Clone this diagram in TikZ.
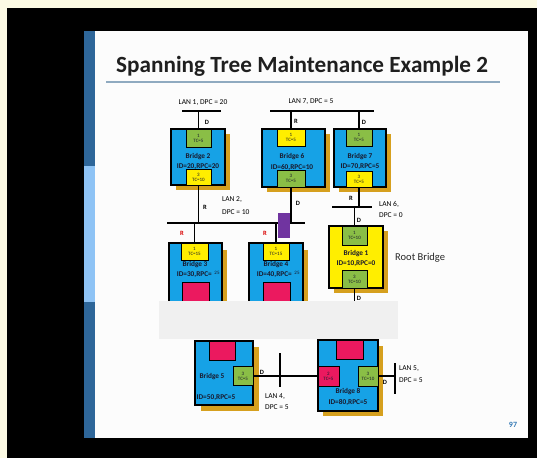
\documentclass[tikz,border=0pt]{standalone}
\usepackage{fontspec}
\setmainfont{Carlito}
\definecolor{bblue}{RGB}{22,162,230}
\definecolor{pgreen}{RGB}{138,190,70}
\definecolor{pyellow}{RGB}{255,238,0}
\definecolor{pred}{RGB}{235,25,95}
\definecolor{ppurple}{RGB}{112,52,160}
\definecolor{shad}{RGB}{214,160,30}
\definecolor{darkbar}{RGB}{46,102,153}
\definecolor{lightbar}{RGB}{142,195,245}
\definecolor{outerbg}{RGB}{252,250,228}
\definecolor{grayb}{RGB}{240,240,240}
\definecolor{txt}{RGB}{25,25,45}
\definecolor{pnum}{RGB}{50,120,180}
\definecolor{rulec}{RGB}{143,170,192}
\begin{document}
\begin{tikzpicture}[x=1pt,y=-1pt,
  brbox/.style={draw=black,line width=1.2pt,fill=bblue},
  portbox/.style={draw=black,line width=1pt,align=center,inner sep=0pt,font=\fontsize{5}{5}\selectfont,text=txt},
  lanline/.style={line width=1.4pt},
  link/.style={line width=1.8pt},
  lbl/.style={font=\fontsize{7.5}{8}\selectfont,inner sep=0pt,text=black},
  plbl/.style={font=\bfseries\fontsize{6.5}{6.5}\selectfont,inner sep=0pt,text=black},
  brtxt/.style={font=\bfseries\fontsize{7.3}{8}\selectfont,inner sep=0pt,text=txt},
  redlbl/.style={font=\bfseries\fontsize{6.5}{6.5}\selectfont,inner sep=0pt,text=red!85!black}
]
\useasboundingbox (0,0) rectangle (537,458);
% backgrounds
\fill[outerbg] (0,0) rectangle (537,458);
\fill[black] (7,8) rectangle (537,458);
\fill[white!98!gray] (84,31) rectangle (528,438);
\fill[darkbar] (84,31) rectangle (95,166);
\fill[lightbar] (84,166) rectangle (95,302);
\fill[darkbar] (84,302) rectangle (95,438);
\node[anchor=base west,inner sep=0pt,font=\bfseries\fontsize{23.2}{23.2}\selectfont,text=black!88] (title) at (116,72) {Spanning Tree Maintenance Example 2};
\draw[rulec,line width=1.2pt] (106,82) -- (500,82);

% LAN segments
\coordinate (lan1a) at (182,111); \coordinate (lan1b) at (221,111);
\coordinate (lan7a) at (270,111); \coordinate (lan7b) at (374,111);
\coordinate (lan2a) at (167,223); \coordinate (lan2b) at (305,223);
\coordinate (lan6a) at (332,207); \coordinate (lan6b) at (372,207);
\coordinate (lan4a) at (280,353); \coordinate (lan4b) at (280,387);
\coordinate (lan5a) at (395,363); \coordinate (lan5b) at (395,394);
\draw[lanline] (lan1a) -- (lan1b);
\draw[lanline] (lan7a) -- (lan7b);
\draw[lanline] (lan2a) -- (lan2b);
\draw[lanline] (lan6a) -- (lan6b);
\draw[lanline] (lan4a) -- (lan4b);
\draw[lanline] (lan5a) -- (lan5b);

% shadows
\fill[shad] (176,134) rectangle (230,190);
\fill[shad] (267,134) rectangle (330,192);
\fill[shad] (339,134) rectangle (391,192);
\fill[shad] (174,250) rectangle (227,310);
\fill[shad] (254,250) rectangle (308,310);
\fill[shad] (334,231) rectangle (388,293);
\fill[shad] (201,347) rectangle (259,411);
\fill[shad] (323,346) rectangle (383,416);

% bridges
\node[brbox,minimum width=54pt,minimum height=56pt,inner sep=0pt] (b2) at (198,157) {};
\node[brbox,minimum width=63pt,minimum height=58pt,inner sep=0pt] (b6) at (293.5,158) {};
\node[brbox,minimum width=52pt,minimum height=58pt,inner sep=0pt] (b7) at (360,158) {};
\node[brbox,minimum width=53pt,minimum height=62pt,inner sep=0pt] (b3) at (195.5,274) {};
\node[brbox,minimum width=54pt,minimum height=62pt,inner sep=0pt] (b4) at (276,274) {};
\node[brbox,fill=pyellow,minimum width=54pt,minimum height=62pt,inner sep=0pt] (b1) at (356,257) {};
\node[brbox,minimum width=58pt,minimum height=64pt,inner sep=0pt] (b5) at (224,373) {};
\node[brbox,minimum width=60pt,minimum height=71pt,inner sep=0pt] (b8) at (348,375.5) {};

% ports
\node[portbox,fill=pgreen,minimum width=25pt,minimum height=18pt] (b2p1) at (198.5,138) {1\\TC=5};
\node[portbox,fill=pyellow,minimum width=25pt,minimum height=16pt] (b2p3) at (198.5,177) {3\\TC=10};
\node[portbox,fill=pyellow,minimum width=28pt,minimum height=17pt] (b6p1) at (291,137.5) {1\\TC=5};
\node[portbox,fill=pgreen,minimum width=28pt,minimum height=17pt] (b6p3) at (291,178.5) {3\\TC=5};
\node[portbox,fill=pgreen,minimum width=26pt,minimum height=17pt] (b7p1) at (359,137.5) {1\\TC=5};
\node[portbox,fill=pyellow,minimum width=26pt,minimum height=16pt] (b7p3) at (359,179) {3\\TC=5};
\node[portbox,fill=pyellow,minimum width=27pt,minimum height=17pt] (b3p1) at (194.5,251.5) {1\\TC=15};
\node[portbox,fill=pred,minimum width=27pt,minimum height=23pt] (b3r) at (195.5,293.5) {};
\node[portbox,fill=pyellow,minimum width=26pt,minimum height=17pt] (b4p1) at (276,251.5) {1\\TC=15};
\node[portbox,fill=pred,minimum width=27pt,minimum height=23pt] (b4r) at (276.5,293.5) {};
\node[portbox,fill=pgreen,minimum width=25pt,minimum height=19pt] (b1p1) at (354.5,235.5) {1\\TC=10};
\node[portbox,fill=pgreen,minimum width=25pt,minimum height=18pt] (b1p3) at (354.5,279) {3\\TC=10};
\node[portbox,fill=pred,minimum width=26pt,minimum height=19pt] (b5r) at (222,350.5) {};
\node[portbox,fill=pgreen,minimum width=20pt,minimum height=19pt] (b5p3) at (243,376) {3\\TC=5};
\node[portbox,fill=pred,minimum width=27pt,minimum height=19pt] (b8r) at (349.5,349.5) {};
\node[portbox,fill=pred,minimum width=21pt,minimum height=20pt] (b8p2) at (328.5,376) {2\\TC=5};
\node[portbox,fill=pgreen,minimum width=20pt,minimum height=20pt] (b8p3) at (368,376) {3\\TC=10};

% bridge texts
\node[brtxt] (t2a) at (198,157) {Bridge 2};
\node[brtxt] (t2b) at (198,167) {ID=20,RPC=20};
\node[brtxt] (t6a) at (292,157) {Bridge 6};
\node[brtxt] (t6b) at (292,167) {ID=60,RPC=10};
\node[brtxt] (t7a) at (360,157) {Bridge 7};
\node[brtxt] (t7b) at (360,167) {ID=70,RPC=5};
\node[brtxt] (t3a) at (195,265) {Bridge 3};
\node[brtxt,anchor=east] (t3b) at (212,274.5) {ID=30,RPC=};
\node[brtxt,font=\fontsize{5}{5}\selectfont] (t3c) at (217,273) {25};
\node[brtxt] (t4a) at (276,265) {Bridge 4};
\node[brtxt,anchor=east] (t4b) at (292,274.5) {ID=40,RPC=};
\node[brtxt,font=\fontsize{5}{5}\selectfont] (t4c) at (297,273) {25};
\node[brtxt] (t1a) at (356,254) {Bridge 1};
\node[brtxt] (t1b) at (356,264) {ID=10,RPC=0};
\node[brtxt] (t5a) at (212,377) {Bridge 5};
\node[brtxt] (t5b) at (216,398) {ID=50,RPC=5};
\node[brtxt] (t8a) at (348,392) {Bridge 8};
\node[brtxt] (t8b) at (348,402) {ID=80,RPC=5};

% links
\draw[link] (b2p1.north) -- (b2p1.north |- lan1a);
\draw[link] (b6p1.north) -- (b6p1.north |- lan7a);
\draw[link] (b7p1.north) -- (b7p1.north |- lan7a);
\draw[link] (b2p3.south) -- (b2p3.south |- lan2a);
\draw[link] (b3p1.north) -- (b3p1.north |- lan2a);
\draw[link] (b4p1.north) -- (b4p1.north |- lan2a);
\draw[link] (b6p3.south) -- (b6p3.south |- lan2a);
\draw[link] (b7p3.south) -- (b7p3.south |- lan6a);
\draw[link] (b1p1.north) -- (b1p1.north |- lan6a);
\draw[link] (b1p3.south) -- ++(0,18);
\draw[link] (b5p3.east) -- (b8p2.west);
\draw[link] (b8p3.east) -- (b8p3.east -| lan5a);
\node[fill=ppurple,minimum width=12pt,minimum height=25pt,inner sep=0pt] (fail) at (284,225.5) {};

% LAN / port labels
\node[lbl] (l1) at (203,103) {LAN 1, DPC = 20};
\node[lbl] (l7) at (311,102) {LAN 7, DPC = 5};
\node[lbl,anchor=west] (l2a) at (222,200) {LAN 2,};
\node[lbl,anchor=west] (l2b) at (222,212) {DPC = 10};
\node[lbl,anchor=west] (l6a) at (379,204) {LAN 6,};
\node[lbl,anchor=west] (l6b) at (379,215) {DPC = 0};
\node[lbl,anchor=west] (l4a) at (265,397) {LAN 4,};
\node[lbl,anchor=west] (l4b) at (265,407) {DPC = 5};
\node[lbl,anchor=west] (l5a) at (399,369) {LAN 5,};
\node[lbl,anchor=west] (l5b) at (399,380) {DPC = 5};
\node[plbl] (d1) at (207,122) {D};
\node[plbl] (r6) at (296,121) {R};
\node[plbl] (d7) at (364,122) {D};
\node[plbl] (r2) at (205,207) {R};
\node[plbl] (d6) at (298,203) {D};
\node[redlbl] (r3) at (182,233) {R};
\node[redlbl] (r4) at (265,233) {R};
\node[plbl] (r7) at (351,198) {R};
\node[plbl] (d1a) at (359,220) {D};
\node[plbl] (d1b) at (359,298) {D};
\node[plbl] (d5) at (262,372) {D};
\node[plbl] (d8) at (385,382) {D};
\node[lbl,anchor=west,font=\fontsize{10.5}{10.5}\selectfont,text=black!85] (root) at (395,258) {Root Bridge};

% grey overlay
\fill[grayb] (159,301) rectangle (398,339);
\node[anchor=center,inner sep=0pt,font=\bfseries\fontsize{8}{8}\selectfont,text=pnum] (pg) at (513,425) {97};
\end{tikzpicture}
\end{document}
